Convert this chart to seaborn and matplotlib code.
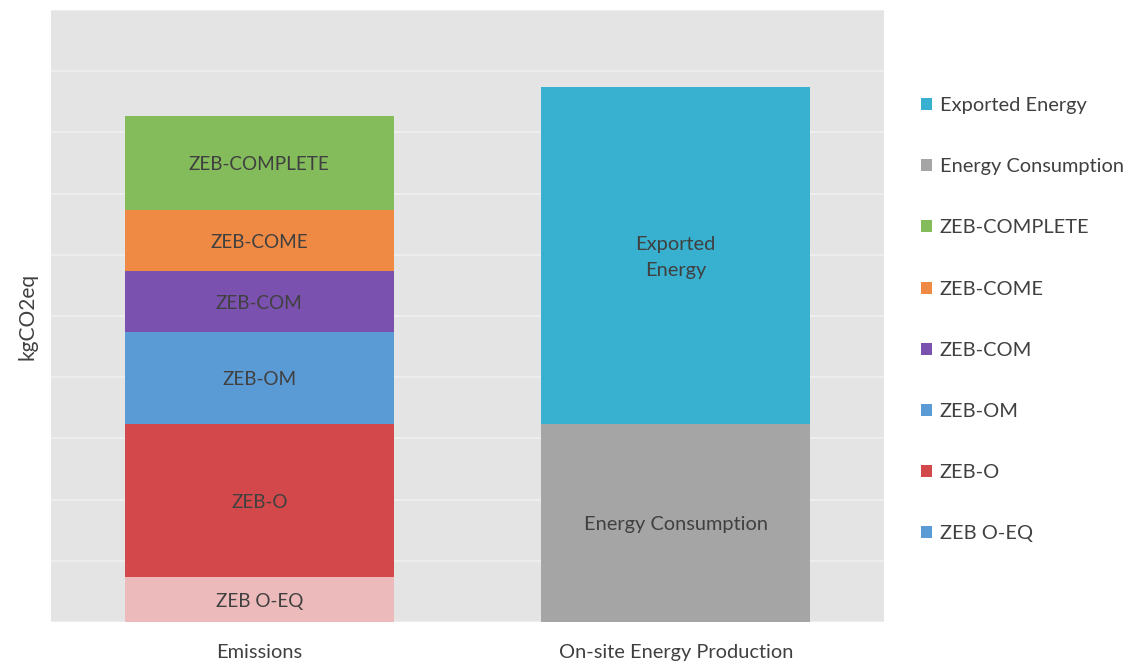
import matplotlib
matplotlib.use("Agg")
import matplotlib.pyplot as plt
from matplotlib.patches import Patch
import seaborn as sns
import pandas as pd

# Categories on the x axis
categories = ["Emissions", "On-site Energy Production"]

# Stacked segments of the emissions bar (bottom to top)
emission_labels = ["ZEB O-EQ", "ZEB-O", "ZEB-OM", "ZEB-COM", "ZEB-COME", "ZEB-COMPLETE"]
emission_values = [0.74, 2.5, 1.5, 1.0, 1.0, 1.52]
emission_colors = ["#ECBABA", "#D3484A", "#5B9BD5", "#7B51B0", "#EF8A45", "#84BC5C"]

# Stacked segments of the production bar (bottom to top)
production_labels = ["Energy Consumption", "Exported Energy"]
production_values = [3.24, 5.5]
production_colors = ["#A5A5A5", "#38B0CF"]
production_texts = ["Energy Consumption", "Exported\nEnergy"]

# Legend entries, top to bottom
legend_labels = ["Exported Energy", "Energy Consumption", "ZEB-COMPLETE", "ZEB-COME",
                 "ZEB-COM", "ZEB-OM", "ZEB-O", "ZEB O-EQ"]
legend_colors = ["#38B0CF", "#A5A5A5", "#84BC5C", "#EF8A45",
                 "#7B51B0", "#5B9BD5", "#D3484A", "#5B9BD5"]

sns.set_theme(style="white")
plt.rcParams["font.family"] = ["Lato", "DejaVu Sans"]

text_color = "#404040"
bar_width = 0.645

fig = plt.figure(figsize=(11.29, 6.63), dpi=100)
ax = fig.add_axes([51 / 1129, 1 - 622 / 663, (884 - 51) / 1129, (622 - 10) / 663])
ax.set_facecolor("#E4E4E4")


def draw_stack(cat_index, values, colors, texts, size):
    bottom = 0.0
    for val, col, txt in zip(values, colors, texts):
        heights = [0.0] * len(categories)
        bottoms = [0.0] * len(categories)
        heights[cat_index] = val
        bottoms[cat_index] = bottom
        df = pd.DataFrame({"category": categories, "value": heights})
        sns.barplot(data=df, x="category", y="value", order=categories, color=col,
                    saturation=1, width=bar_width, bottom=bottoms, ax=ax,
                    linewidth=0, zorder=3)
        ax.annotate(txt, (cat_index, bottom + val / 2), xytext=(0, -2),
                    textcoords="offset pixels", ha="center", va="center",
                    fontsize=size, color=text_color, zorder=4, linespacing=1.7)
        bottom += val


draw_stack(0, emission_values, emission_colors, emission_labels, 13.6)
draw_stack(1, production_values, production_colors, production_texts, 14.4)

ax.set_xlim(-0.5, 1.5)
ax.set_ylim(0, 10)
ax.set_yticks(range(0, 11))
ax.set_yticklabels([])
ax.tick_params(axis="y", length=0)
ax.tick_params(axis="x", length=0, labelsize=14.4, labelcolor=text_color, pad=15.5)
ax.grid(axis="y", color="#EFEFEF", linewidth=1.2, zorder=0)
ax.set_axisbelow(True)
for spine in ax.spines.values():
    spine.set_visible(False)
ax.set_xlabel("")
ax.set_ylabel("kgCO2eq", fontsize=15, color=text_color, labelpad=6)

handles = [Patch(facecolor=c, edgecolor="none") for c in legend_colors]
fig.legend(handles, legend_labels, loc="upper left",
           bbox_to_anchor=(921 / 1129, 1 - 97 / 663), frameon=False,
           fontsize=14.4, labelcolor=text_color, handlelength=0.55,
           handleheight=0.55, handletextpad=0.4, labelspacing=2.21,
           borderaxespad=0, borderpad=0)

fig.savefig("out.png", dpi=100, facecolor="white")
